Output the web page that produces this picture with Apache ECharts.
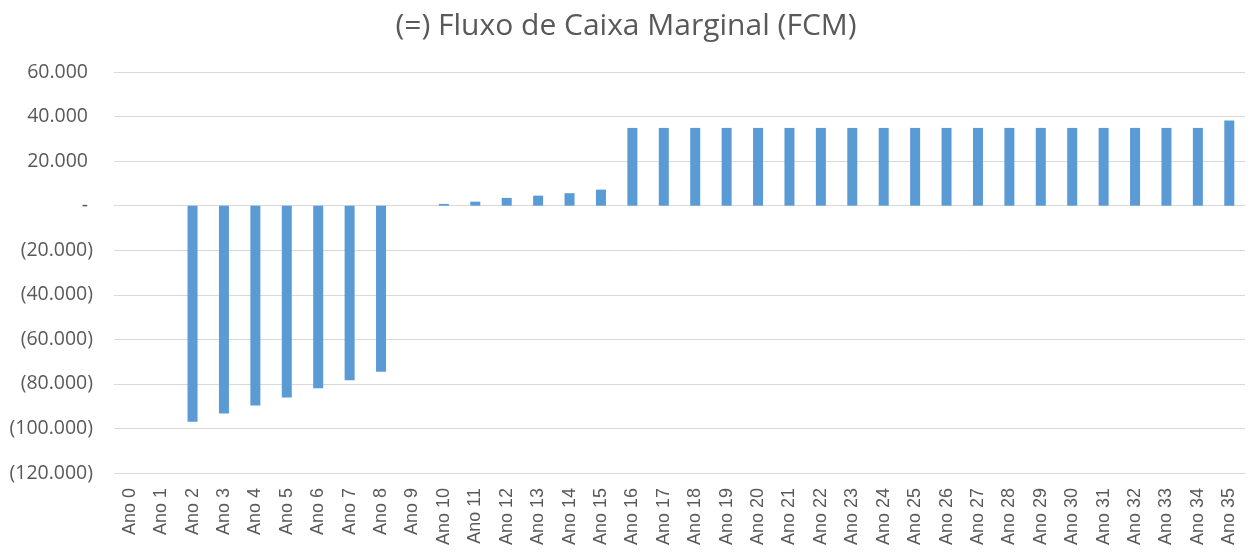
<!DOCTYPE html>
<html><head><meta charset="utf-8">
<script src="https://cdn.jsdelivr.net/npm/echarts@6/dist/echarts.min.js"></script>
<style>html,body{margin:0;padding:0;background:#fff}#c{width:1252px;height:552px}</style>
</head><body><div id="c"></div>
<script>
const categories = ["Ano 0","Ano 1","Ano 2","Ano 3","Ano 4","Ano 5","Ano 6","Ano 7","Ano 8","Ano 9","Ano 10","Ano 11","Ano 12","Ano 13","Ano 14","Ano 15","Ano 16","Ano 17","Ano 18","Ano 19","Ano 20","Ano 21","Ano 22","Ano 23","Ano 24","Ano 25","Ano 26","Ano 27","Ano 28","Ano 29","Ano 30","Ano 31","Ano 32","Ano 33","Ano 34","Ano 35"];
const fcm = [0,0,-97000,-93300,-89700,-86100,-82000,-78400,-74600,0,800,1800,3500,4500,5600,7200,34900,34900,34900,34900,34900,34900,34900,34900,34900,34900,34900,34900,34900,34900,34900,34900,34900,34900,34900,38200];
const yMin = -120000, yMax = 60000, yStep = 20000;
const title = "(=) Fluxo de Caixa Marginal (FCM)";

function fmt(v){
  if (v === 0) return '{z|-}';
  const s = Math.abs(v).toString().replace(/\B(?=(\d{3})+(?!\d))/g, '.');
  return v < 0 ? '{n|(' + s + ')}' : '{p|' + s + '}';
}
const chart = echarts.init(document.getElementById('c'), null, {renderer:'canvas'});
const lab = {fontFamily:'Open Sans', fontSize:19.5, color:'#595959'};
chart.setOption({
  animation:false,
  title:{text:title,left:'center',top:6,padding:[5,0,5,22],textStyle:{fontFamily:'Open Sans',fontSize:30,fontWeight:'normal',color:'#595959'}},
  grid:{left:114,right:7,top:72,bottom:79,containLabel:false},
  xAxis:{type:'category',data:categories,
    axisLine:{show:true,lineStyle:{color:'#d9d9d9'}},axisTick:{show:false},
    axisLabel:{rotate:90,interval:0,margin:15,fontFamily:'Liberation Sans',fontSize:18,color:'#595959'}},
  yAxis:{type:'value',min:yMin,max:yMax,interval:yStep,
    axisLine:{show:false},axisTick:{show:false},
    splitLine:{lineStyle:{color:'#d9d9d9',width:1}},
    axisLabel:{formatter:fmt,margin:21,
      rich:{p:Object.assign({padding:[0,5,0,0]},lab),n:Object.assign({},lab),z:Object.assign({padding:[0,5,0,0]},lab)}}},
  series:[{type:'bar',data:fcm,barWidth:10,itemStyle:{color:'#5b9bd5'}}]
});
</script></body></html>
